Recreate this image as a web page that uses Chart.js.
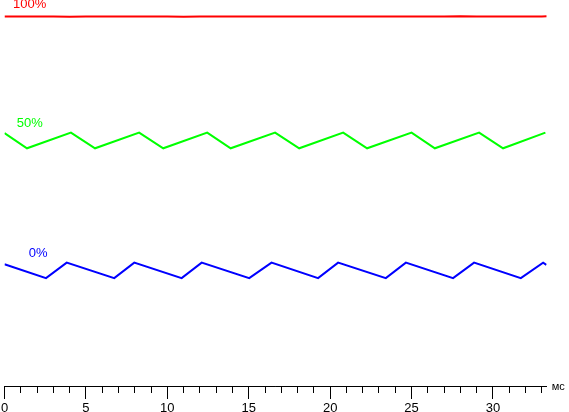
<!DOCTYPE html>
<html>
<head>
<meta charset="utf-8">
<script src="https://cdn.jsdelivr.net/npm/chart.js@4/dist/chart.umd.min.js"></script>
<style>
    html, body { margin: 0; padding: 0; background: #fff; }
    #wrap { width: 569px; height: 412px; position: relative; }
</style>
</head>
<body>
<div id="wrap"><canvas id="chart"></canvas></div>
<script>
// Time axis (ms)
const timeMin = 0;
const timeMax = 33.3;
const majorStep = 5;
const minorStep = 1;
const unitLabel = 'мс';

// Level scale (percent of brightness)
const levelMin = -45.85;
const levelMax = 106.72;

// Series: 100% (red) - almost flat
const redTime  = [0, 1, 2, 3, 4, 5, 6, 7, 8, 9, 10, 11, 12, 13, 14, 15, 16, 17, 18, 19, 20, 21, 22, 23, 24, 25, 26, 27, 28, 29, 30, 31, 32, 33, 33.3];
const redLevel = [100.2, 100.2, 100.2, 100.2, 100.1, 100.2, 100.2, 100.2, 100.2, 100.2, 100.2, 100.1, 100.2, 100.2, 100.2, 100.2, 100.2, 100.2, 100.2, 100.2, 100.2, 100.2, 100.2, 100.2, 100.2, 100.2, 100.2, 100.2, 100.3, 100.2, 100.2, 100.2, 100.2, 100.2, 100.3];

// Series: 50% (green)
const greenTime  = [0, 1.38, 4.08, 5.56, 8.27, 9.75, 12.45, 13.89, 16.62, 18.10, 20.80, 22.27, 25.00, 26.43, 29.15, 30.62, 33.22];
const greenLevel = [54.1, 48.1, 54.3, 48.1, 54.3, 48.1, 54.3, 48.1, 54.3, 48.1, 54.3, 48.1, 54.3, 48.1, 54.3, 48.1, 54.3];

// Series: 0% (blue)
const blueTime  = [0, 2.55, 3.82, 6.74, 7.97, 10.88, 12.11, 15.03, 16.40, 19.26, 20.49, 23.42, 24.65, 27.55, 28.84, 31.71, 33.08, 33.28];
const blueLevel = [2.3, -3.2, 2.9, -3.2, 2.9, -3.2, 2.9, -3.2, 2.9, -3.2, 2.9, -3.2, 2.9, -3.2, 2.9, -3.2, 2.9, 2.0];

// Series names shown next to each line
const seriesNames = ['100%', '50%', '0%'];
const seriesColors = ['#ff0000', '#00ff00', '#0000ff'];

const toPoints = (xs, ys) => xs.map((x, i) => ({ x: x, y: ys[i] }));

// Where the series names sit (time, level)
const nameAnchors = [
    { x: 0.52, y: 104.9 },
    { x: 0.75, y: 58.0 },
    { x: 1.49, y: 6.7 }
];

// Draw series names and unit label
const textPlugin = {
    id: 'texts',
    afterDraw(chart) {
        const ctx = chart.ctx;
        const xs = chart.scales.x;
        const ys = chart.scales.y;
        ctx.save();
        ctx.font = '13px "Liberation Sans", Arial, sans-serif';
        ctx.textAlign = 'left';
        ctx.textBaseline = 'middle';
        seriesNames.forEach((name, i) => {
            ctx.fillStyle = seriesColors[i];
            ctx.fillText(name, xs.getPixelForValue(nameAnchors[i].x), ys.getPixelForValue(nameAnchors[i].y));
        });
        // unit label right of the axis
        ctx.fillStyle = '#000';
        ctx.font = '11px "Liberation Sans", Arial, sans-serif';
        ctx.fillText(unitLabel, xs.right + 5, ys.getPixelForValue(levelMin) + 1);
        ctx.restore();
    }
};

const lineStyle = (color) => ({
    borderColor: color,
    backgroundColor: color,
    borderWidth: 2,
    pointRadius: 0,
    tension: 0,
    fill: false
});

// keep the axis from pushing the plot inwards for its edge labels
const noEdgePadding = (scale) => {
    scale.paddingLeft = 0;
    scale.paddingRight = 0;
};

new Chart(document.getElementById('chart'), {
    type: 'line',
    data: {
        datasets: [
            { label: seriesNames[0], data: toPoints(redTime, redLevel), ...lineStyle(seriesColors[0]) },
            { label: seriesNames[1], data: toPoints(greenTime, greenLevel), ...lineStyle(seriesColors[1]) },
            { label: seriesNames[2], data: toPoints(blueTime, blueLevel), ...lineStyle(seriesColors[2]) }
        ]
    },
    options: {
        responsive: true,
        maintainAspectRatio: false,
        animation: false,
        layout: {
            padding: { left: 4.5, right: 22.3, top: 0, bottom: 26 }
        },
        scales: {
            x: {
                type: 'linear',
                min: timeMin,
                max: timeMax,
                position: { y: levelMin },
                afterFit: noEdgePadding,
                grid: {
                    drawOnChartArea: false,
                    tickLength: 12,
                    tickColor: '#000'
                },
                border: { color: '#000', width: 1 },
                ticks: {
                    stepSize: majorStep,
                    includeBounds: false,
                    color: '#000',
                    padding: 3,
                    maxRotation: 0,
                    font: { family: '"Liberation Sans", Arial, sans-serif', size: 13 }
                }
            },
            xm: {
                type: 'linear',
                axis: 'x',
                min: timeMin,
                max: timeMax,
                position: { y: levelMin },
                afterFit: noEdgePadding,
                grid: {
                    drawOnChartArea: false,
                    tickLength: 6,
                    tickColor: '#000'
                },
                border: { color: '#000', width: 1 },
                ticks: {
                    stepSize: minorStep,
                    includeBounds: false,
                    display: false
                }
            },
            y: {
                display: false,
                min: levelMin,
                max: levelMax
            }
        },
        plugins: {
            legend: { display: false },
            tooltip: { enabled: false }
        }
    },
    plugins: [textPlugin]
});
</script>
</body>
</html>
